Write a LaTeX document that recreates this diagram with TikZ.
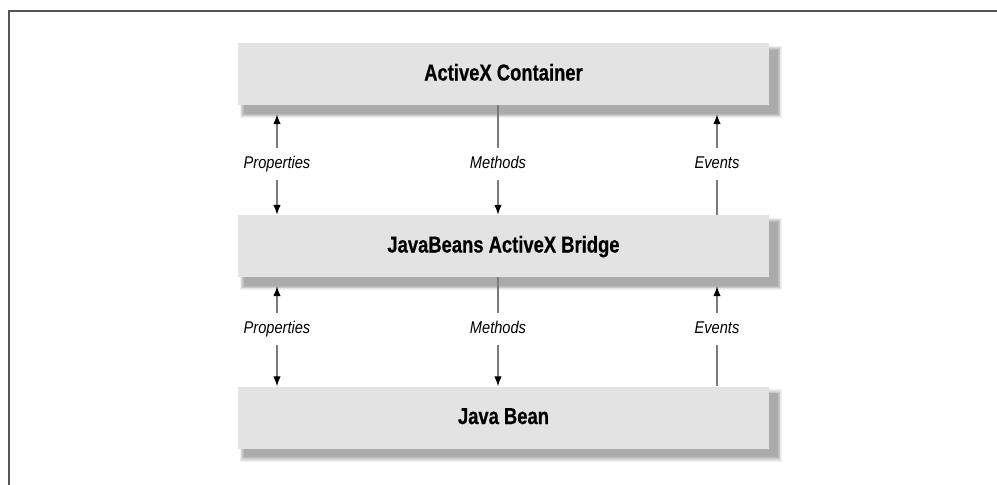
\documentclass[tikz,border=0pt]{standalone}
\usepackage{fontspec}
\setmainfont{Liberation Sans}
\newfontfamily\boxfont{Liberation Sans}[FakeStretch=0.8,FakeBold=0.6]
\newfontfamily\lblfont{Liberation Sans}[FakeStretch=0.86]
\usetikzlibrary{arrows.meta,backgrounds}
\definecolor{boxfill}{HTML}{E3E3E3}
\definecolor{linegray}{HTML}{7A7A7A}
\definecolor{framegray}{HTML}{555555}
\tikzset{
  layerbox/.style={fill=boxfill, minimum width=531pt, minimum height=62pt, inner sep=0pt,
    font=\boxfont\bfseries\fontsize{23}{27}\selectfont, text height=17pt, text depth=4pt},
  flowlbl/.style={inner sep=0pt, minimum height=32pt,
    font=\lblfont\itshape\fontsize{17}{20}\selectfont, text height=12pt, text depth=3.5pt},
  conn/.style={draw=linegray, line width=1.3pt},
  arr/.style={conn, -{Latex[length=10pt,width=7.5pt,color=black]}},
  frameline/.style={draw=framegray, line width=2pt}
}
\begin{document}
\begin{tikzpicture}[x=1pt,y=1pt]
\useasboundingbox (0,0) rectangle (997,-485);
% frame
\coordinate (ftl) at (9,-11);
\coordinate (ftr) at (997,-11);
\coordinate (fbl) at (9,-485);
\draw[frameline] ([xshift=-1pt]ftl) -- (ftr);
\draw[frameline] (ftl) -- (fbl);
% boxes
\node[layerbox] (b1) at (503.5,-74) {ActiveX Container};
\node[layerbox] (b2) at (503.5,-246) {JavaBeans ActiveX Bridge};
\node[layerbox] (b3) at (503.5,-417.5) {Java Bean};
\begin{scope}[on background layer]
\foreach \b in {b1,b2,b3}{
  \foreach \d/\c in {0/6,1/10,2/15,3/21,4/27,5/33}{
    \fill[black!\c]
      ([shift={(2+\d*0.8,-13+\d*0.9)}]\b.south west) rectangle ([shift={(13-\d*0.9,-3-\d*0.8)}]\b.north east);
  }
}
\end{scope}
% labels
\node[flowlbl] (p1) at (277,-164) {Properties};
\node[flowlbl] (m1) at (498,-164) {Methods};
\node[flowlbl] (e1) at (717,-164) {Events};
\node[flowlbl] (p2) at (277,-329) {Properties};
\node[flowlbl] (m2) at (498,-329) {Methods};
\node[flowlbl] (e2) at (717,-329) {Events};
% upper gap
\draw[arr] (p1.north) -- ([yshift=-9pt]b1.south -| p1.north);
\draw[arr] (p1.south) -- (b2.north -| p1.south);
\draw[conn] (b1.south -| m1.north) -- (m1.north);
\draw[arr] (m1.south) -- (b2.north -| m1.south);
\draw[arr] (e1.north) -- ([yshift=-9pt]b1.south -| e1.north);
\draw[conn] (e1.south) -- (b2.north -| e1.south);
% lower gap
\draw[arr] (p2.north) -- ([yshift=-9pt]b2.south -| p2.north);
\draw[arr] (p2.south) -- (b3.north -| p2.south);
\draw[conn] (b2.south -| m2.north) -- (m2.north);
\draw[arr] (m2.south) -- (b3.north -| m2.south);
\draw[arr] (e2.north) -- ([yshift=-9pt]b2.south -| e2.north);
\draw[conn] (e2.south) -- (b3.north -| e2.south);
\end{tikzpicture}
\end{document}
